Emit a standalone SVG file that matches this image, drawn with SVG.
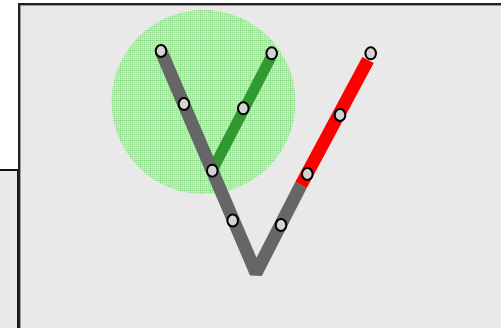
<svg xmlns="http://www.w3.org/2000/svg" width="501" height="328" viewBox="0 0 501 328">
  <style>
    .node { fill: #d3d3d3; stroke: #000; stroke-width: 2; }
    .seg { fill: none; stroke-linecap: butt; }
    .gray { stroke: #666666; stroke-width: 13; stroke-linejoin: bevel; }
    .green { stroke: #2e9a30; stroke-width: 11; }
    .red { stroke: #ff0000; stroke-width: 13; }
  </style>
  <defs>
    <pattern id="grid" width="2" height="2" patternUnits="userSpaceOnUse">
      <rect width="2" height="2" fill="#d3f7ce"/>
      <rect width="1" height="2" fill="#a6eaa1"/>
      <rect width="2" height="1" fill="#a6eaa1"/>
    </pattern>
    <pattern id="grid10" width="10" height="10" patternUnits="userSpaceOnUse">
      <rect width="1" height="10" fill="#7ad876" opacity="0.45"/>
      <rect width="10" height="1" fill="#7ad876" opacity="0.45"/>
    </pattern>
  </defs>
  <rect width="501" height="328" fill="#ffffff"/>
  <g id="frame-left">
    <rect x="-10" y="170" width="28" height="200" fill="#e9e9e9" stroke="#111" stroke-width="2"/>
  </g>
  <g id="frame-main">
    <rect x="19" y="4" width="500" height="340" fill="#e9e9e9" stroke="#222" stroke-width="2"/>
    <rect x="20.5" y="5.5" width="500" height="340" fill="none" stroke="#999" stroke-width="1"/>
  </g>
  <g id="zone">
    <circle cx="203.5" cy="102" r="92" fill="url(#grid)"/>
    <circle cx="203.5" cy="102" r="92" fill="url(#grid10)"/>
  </g>
  <g id="connectors">
    <line class="seg green" x1="213" y1="169" x2="271" y2="57"/>
    <polyline class="seg gray" points="161,51 256,273 301,185"/>
    <line class="seg red" x1="301" y1="185" x2="368" y2="60"/>
  </g>
  <g id="n1"><ellipse class="node" cx="161" cy="51" rx="5.3" ry="6"/></g>
  <g id="n2"><ellipse class="node" cx="184" cy="104" rx="5.3" ry="6"/></g>
  <g id="n3"><ellipse class="node" cx="212.3" cy="170.7" rx="5.3" ry="6"/></g>
  <g id="n4"><ellipse class="node" cx="232.7" cy="220.5" rx="5.3" ry="6"/></g>
  <g id="n5"><ellipse class="node" cx="281" cy="225" rx="5.3" ry="6"/></g>
  <g id="n6"><ellipse class="node" cx="307.3" cy="174" rx="5.3" ry="6"/></g>
  <g id="n7"><ellipse class="node" cx="340" cy="115" rx="5.3" ry="6"/></g>
  <g id="n8"><ellipse class="node" cx="370.7" cy="53.3" rx="5.3" ry="6"/></g>
  <g id="n9"><ellipse class="node" cx="243.3" cy="108.3" rx="5.3" ry="6"/></g>
  <g id="n10"><ellipse class="node" cx="271.7" cy="53.3" rx="5.3" ry="6"/></g>
</svg>
